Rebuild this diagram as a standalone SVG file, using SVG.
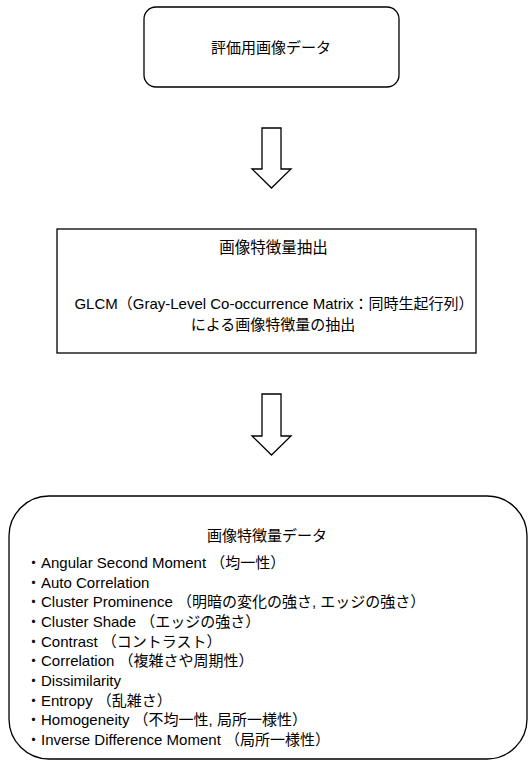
<svg xmlns="http://www.w3.org/2000/svg" width="529" height="761" viewBox="0 0 529 761">
<style>
.box{fill:#fff;stroke:#000;stroke-width:1.3}
.arrow{fill:#fff;stroke:#000;stroke-width:1.3;stroke-linejoin:miter}
text{font-family:"Liberation Sans","Noto Sans CJK JP",sans-serif;font-size:15px;fill:#000}
.c{text-anchor:middle}
</style>
<rect width="529" height="761" fill="#fff"/>
<g id="node-eval">
<rect class="box" x="144" y="7" width="255" height="80" rx="12"/>
<text class="c" x="271" y="53">評価用画像データ</text>
</g>
<g id="node-extract">
<rect class="box" x="57" y="229" width="419" height="124"/>
<text class="c" x="273.5" y="253" style="font-size:15.5px">画像特徴量抽出</text>
<text class="c" x="274" y="309">GLCM（Gray-Level Co-occurrence Matrix：同時生起行列）</text>
<text class="c" x="273" y="330">による画像特徴量の抽出</text>
</g>
<g id="node-features">
<rect class="box" x="9" y="496" width="518" height="263" rx="40"/>
<text class="c" x="267" y="541">画像特徴量データ</text>
<text x="26" y="568">・Angular Second Moment （均一性）</text>
<text x="26" y="587.7">・Auto Correlation</text>
<text x="26" y="607.3">・Cluster Prominence （明暗の変化の強さ, エッジの強さ）</text>
<text x="26" y="627">・Cluster Shade （エッジの強さ）</text>
<text x="26" y="646.7">・Contrast （コントラスト）</text>
<text x="26" y="666.3">・Correlation （複雑さや周期性）</text>
<text x="26" y="686">・Dissimilarity</text>
<text x="26" y="705.7">・Entropy （乱雑さ）</text>
<text x="26" y="725.3">・Homogeneity （不均一性, 局所一様性）</text>
<text x="26" y="745">・Inverse Difference Moment （局所一様性）</text>
</g>
<g id="connectors">
<polygon class="arrow" points="262,128 281,128 281,169 291,169 271.5,188 252,169 262,169"/>
<polygon class="arrow" points="262,394 281,394 281,436 291,436 271.5,455 252,436 262,436"/>
</g>
</svg>
